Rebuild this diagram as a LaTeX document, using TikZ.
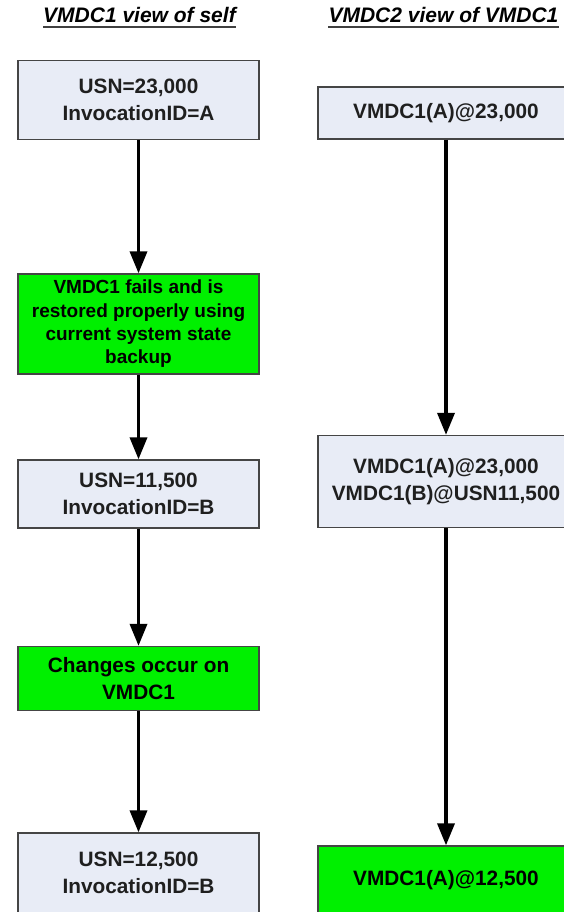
\documentclass[tikz,border=0pt]{standalone}
\usepackage{fontspec}
\setmainfont{Liberation Sans}
\usetikzlibrary{arrows.meta}
\definecolor{boxblue}{HTML}{E8ECF6}
\definecolor{boxgreen}{HTML}{00F000}
\definecolor{boxline}{HTML}{454545}
\begin{document}
\begin{tikzpicture}[x=1pt,y=-1pt,
  viewbox/.style={draw=boxline,line width=1.3pt,fill=boxblue,align=center,inner sep=0pt,
    text=black!88,font=\bfseries\fontsize{20.8}{26.7}\selectfont},
  eventbox/.style={viewbox,fill=boxgreen,text=black},
  flow/.style={line width=3.5pt,-{Triangle[length=22pt,width=17pt]}},
  heading/.style={inner sep=0pt,anchor=base,font=\bfseries\itshape\fontsize{21}{25}\selectfont}]
\useasboundingbox (0,0) rectangle (564,912);
\clip (0,0) rectangle (564,912);
% column headings
\node[heading] (h1) at (139.5,23) {VMDC1 view of self};
\node[heading] (h2) at (443.5,23) {VMDC2 view of VMDC1};
\draw[line width=1.6pt,black!75] ([yshift=-4pt]h1.base west) -- ([yshift=-4pt]h1.base east);
\draw[line width=1.6pt,black!75] ([yshift=-4pt]h2.base west) -- ([yshift=-4pt]h2.base east);
% left column
\node[viewbox,minimum width=241pt,minimum height=79pt] (self1) at (138.5,100) {USN=23,000\\InvocationID=A};
\node[eventbox,minimum width=241pt,minimum height=100pt,font=\bfseries\fontsize{19}{23.3}\selectfont] (fail) at (138.5,324)
  {VMDC1 fails and is\\restored properly using\\current system state\\backup};
\node[viewbox,minimum width=241pt,minimum height=68pt] (self2) at (138.5,494) {USN=11,500\\InvocationID=B};
\node[eventbox,minimum width=241pt,minimum height=64pt] (change) at (138.5,678.5) {Changes occur on\\VMDC1};
\node[viewbox,minimum width=241pt,minimum height=80pt] (self3) at (138.5,873) {USN=12,500\\InvocationID=B};
\draw[flow] (self1) -- (fail);
\draw[flow] (fail) -- (self2);
\draw[flow] (self2) -- (change);
\draw[flow] (change) -- (self3);
% right column
\node[viewbox,minimum width=256pt,minimum height=52pt] (peer1) at (446,113) {VMDC1(A)@23,000};
\node[viewbox,minimum width=256pt,minimum height=92pt] (peer2) at (446,481.5) {VMDC1(A)@23,000\\VMDC1(B)@USN11,500};
\node[eventbox,minimum width=256pt,minimum height=68pt] (peer3) at (446,880) {VMDC1(A)@12,500};
\draw[flow] (peer1) -- (peer2);
\draw[flow] (peer2) -- (peer3);
\end{tikzpicture}
\end{document}
